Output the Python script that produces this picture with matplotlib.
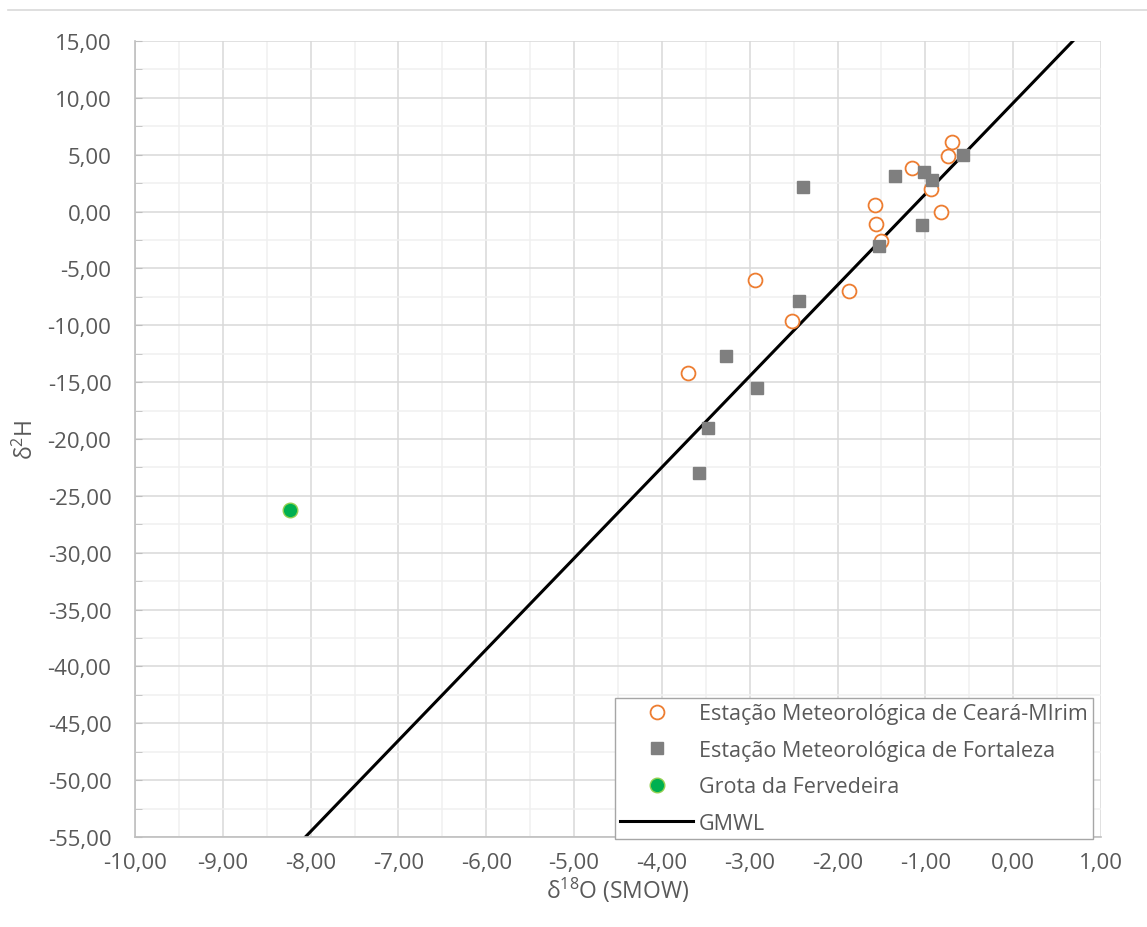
import matplotlib
matplotlib.use("Agg")
import matplotlib.pyplot as plt
from matplotlib.lines import Line2D
from matplotlib.ticker import MultipleLocator, FuncFormatter

# Estação Meteorológica de Ceará-Mirim
ceara_d18o = [-0.70, -0.74, -1.15, -0.94, -0.82, -1.57, -1.56, -1.50, -2.94, -1.87, -2.52, -3.70]
ceara_d2h = [6.1, 4.9, 3.8, 2.0, 0.0, 0.55, -1.07, -2.6, -6.0, -7.0, -9.6, -14.2]

# Estação Meteorológica de Fortaleza
fortaleza_d18o = [-0.57, -1.01, -0.93, -2.39, -1.35, -1.04, -1.53, -2.44, -3.27, -2.92, -3.47, -3.58]
fortaleza_d2h = [5.0, 3.45, 2.77, 2.2, 3.1, -1.16, -3.0, -7.9, -12.7, -15.5, -19.0, -23.0]

# Grota da Fervedeira
grota_d18o = [-8.23]
grota_d2h = [-26.2]

# GMWL, end points as drawn inside the plot window
gmwl_d18o = [-8.06, 0.68]
gmwl_d2h = [-55.0, 15.0]

TEXT = "#595959"
plt.rcParams["font.family"] = ["Open Sans", "DejaVu Sans"]
plt.rcParams["mathtext.fontset"] = "custom"
plt.rcParams["mathtext.rm"] = "Open Sans"
plt.rcParams["mathtext.it"] = "Open Sans"


def comma_fmt(v, _pos):
    return f"{v:.2f}".replace(".", ",").replace("-0,00", "0,00")


def main() -> None:
    fig = plt.figure(figsize=(11.47, 9.28), dpi=100)
    ax = fig.add_axes([135 / 1147, 1 - 838 / 928, (1101 - 135) / 1147, (838 - 42) / 928])

    ax.plot(ceara_d18o, ceara_d2h, "o", ms=10, mfc="white", mec="#ED7D31", mew=1.3,
            label="Estação Meteorológica de Ceará-MIrim", zorder=3)
    ax.plot(fortaleza_d18o, fortaleza_d2h, "s", ms=9, color="#7F7F7F",
            label="Estação Meteorológica de Fortaleza", zorder=4)
    ax.plot(grota_d18o, grota_d2h, "o", ms=10.5, mfc="#00B050", mec="#92D050", mew=1,
            label="Grota da Fervedeira", zorder=4)
    ax.plot(gmwl_d18o, gmwl_d2h, "-", color="black", lw=2.2, label="GMWL", zorder=2)

    ax.set_xlim(-10, 1)
    ax.set_ylim(-55, 15)
    ax.xaxis.set_major_locator(MultipleLocator(1))
    ax.xaxis.set_minor_locator(MultipleLocator(0.5))
    ax.yaxis.set_major_locator(MultipleLocator(5))
    ax.yaxis.set_minor_locator(MultipleLocator(2.5))
    ax.xaxis.set_major_formatter(FuncFormatter(comma_fmt))
    ax.yaxis.set_major_formatter(FuncFormatter(comma_fmt))

    ax.grid(which="major", color="#D9D9D9", lw=1.1)
    ax.grid(which="minor", color="#F0F0F0", lw=1.1)
    ax.set_axisbelow(True)

    for side in ("top", "right"):
        ax.spines[side].set_visible(False)
    for side in ("left", "bottom"):
        ax.spines[side].set_color("#BFBFBF")
        ax.spines[side].set_linewidth(1.2)

    ax.tick_params(axis="x", which="both", length=0, pad=11, labelsize=16, labelcolor=TEXT)
    ax.tick_params(axis="y", which="both", direction="in", length=5, color="#BFBFBF",
                   pad=17, labelsize=16, labelcolor=TEXT)

    ax.set_xlabel("δ$^{18}$O (SMOW)", fontsize=16.5, color=TEXT, labelpad=1)
    ax.set_ylabel("δ$^{2}$H", fontsize=16.5, color=TEXT, labelpad=6)

    leg = ax.legend(loc="lower right", bbox_to_anchor=(1093 / 1147, 1 - 840 / 928),
                    bbox_transform=fig.transFigure, borderaxespad=0, fontsize=15.5,
                    frameon=True, fancybox=False, framealpha=1, edgecolor="#A6A6A6",
                    labelspacing=0.72, handlelength=3.4, handletextpad=0.25,
                    borderpad=0.25)
    leg.get_frame().set_linewidth(1.0)
    for t in leg.get_texts():
        t.set_color(TEXT)

    # chart area top border
    fig.add_artist(Line2D([0.007, 1.0], [1 - 10.7 / 928, 1 - 10.7 / 928],
                          transform=fig.transFigure, color="#D9D9D9", lw=1.2))

    fig.savefig("out.png", dpi=100)


if __name__ == "__main__":
    main()
